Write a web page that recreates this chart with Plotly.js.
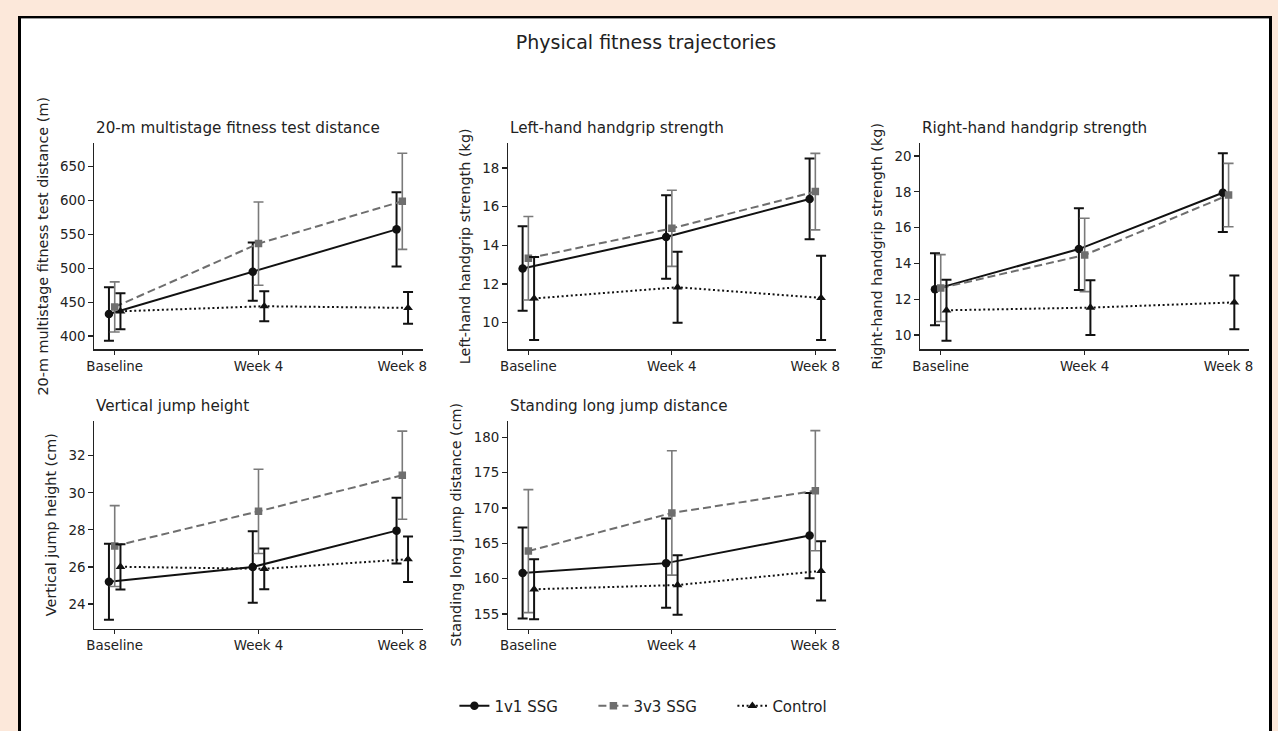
<!DOCTYPE html>
<html>
<head>
<meta charset="utf-8">
<script src="https://cdn.plot.ly/plotly-3.0.1.min.js"></script>
<style>
html,body{margin:0;padding:0;background:#fce8da;width:1278px;height:731px;overflow:hidden;font-family:"DejaVu Sans",sans-serif;}
#frame{position:absolute;left:18px;top:16px;width:1248px;height:740px;background:#fff;border-left:3px solid #000;border-right:3px solid #000;border-top:2px solid #000;box-shadow:inset 0 1px 0 #9a9a9a;}
#chart{position:absolute;left:0;top:0;width:1278px;height:731px;}
</style>
</head>
<body>
<div id="frame"></div>
<div id="chart"></div>
<script>
// ---- categories / labels ----
const timepoints = ['Baseline', 'Week 4', 'Week 8'];
const groupNames = ['1v1 SSG', '3v3 SSG', 'Control'];
const panelTitles = ['20-m multistage fitness test distance', 'Left-hand handgrip strength', 'Right-hand handgrip strength', 'Vertical jump height', 'Standing long jump distance'];
const yLabels = ['20-m multistage fitness test distance (m)', 'Left-hand handgrip strength (kg)', 'Right-hand handgrip strength (kg)', 'Vertical jump height (cm)', 'Standing long jump distance (cm)'];
const yTicksMsft = [400, 450, 500, 550, 600, 650];
const yTicksLeft = [10, 12, 14, 16, 18];
const yTicksRight = [10, 12, 14, 16, 18, 20];
const yTicksVj = [24, 26, 28, 30, 32];
const yTicksSlj = [155, 160, 165, 170, 175, 180];

// ---- 20-m multistage fitness test distance (m) ----
const msftMean1v1 = [432.5, 495, 557.5];
const msftSd1v1 = [39.5, 43, 55];
const msftMean3v3 = [443, 536.5, 599];
const msftSd3v3 = [37, 61.5, 71];
const msftMeanCtrl = [436.5, 444, 441.5];
const msftSdCtrl = [26.5, 22, 23.5];

// ---- Left-hand handgrip strength (kg) ----
const leftMean1v1 = [12.8, 14.43, 16.4];
const leftSd1v1 = [2.19, 2.16, 2.09];
const leftMean3v3 = [13.33, 14.88, 16.78];
const leftSd3v3 = [2.16, 1.97, 1.98];
const leftMeanCtrl = [11.25, 11.83, 11.28];
const leftSdCtrl = [2.15, 1.84, 2.18];

// ---- Right-hand handgrip strength (kg) ----
const rightMean1v1 = [12.56, 14.8, 17.95];
const rightSd1v1 = [2.01, 2.28, 2.2];
const rightMean3v3 = [12.62, 14.47, 17.82];
const rightSd3v3 = [1.87, 2.05, 1.77];
const rightMeanCtrl = [11.38, 11.53, 11.82];
const rightSdCtrl = [1.7, 1.53, 1.5];

// ---- Vertical jump height (cm) ----
const vjMean1v1 = [25.2, 26.0, 27.96];
const vjSd1v1 = [2.05, 1.93, 1.77];
const vjMean3v3 = [27.13, 29.0, 30.95];
const vjSd3v3 = [2.18, 2.27, 2.38];
const vjMeanCtrl = [26.01, 25.9, 26.42];
const vjSdCtrl = [1.22, 1.1, 1.23];

// ---- Standing long jump distance (cm) ----
const sljMean1v1 = [160.8, 162.2, 166.1];
const sljSd1v1 = [6.43, 6.3, 6.03];
const sljMean3v3 = [163.9, 169.3, 172.45];
const sljSd3v3 = [8.7, 8.8, 8.5];
const sljMeanCtrl = [158.5, 159.1, 161.1];
const sljSdCtrl = [4.25, 4.2, 4.2];

// ---- assembly ----
const panels = [
  {means: [msftMean1v1, msftMean3v3, msftMeanCtrl], sds: [msftSd1v1, msftSd3v3, msftSdCtrl], ticks: yTicksMsft, range: [380.4, 684.6]},
  {means: [leftMean1v1, leftMean3v3, leftMeanCtrl], sds: [leftSd1v1, leftSd3v3, leftSdCtrl], ticks: yTicksLeft, range: [8.62, 19.28]},
  {means: [rightMean1v1, rightMean3v3, rightMeanCtrl], sds: [rightSd1v1, rightSd3v3, rightSdCtrl], ticks: yTicksRight, range: [9.2, 20.71]},
  {means: [vjMean1v1, vjMean3v3, vjMeanCtrl], sds: [vjSd1v1, vjSd3v3, vjSdCtrl], ticks: yTicksVj, range: [22.67, 33.89]},
  {means: [sljMean1v1, sljMean3v3, sljMeanCtrl], sds: [sljSd1v1, sljSd3v3, sljSdCtrl], ticks: yTicksSlj, range: [152.92, 182.36]}
];

const W = 1278, H = 731;
const colPx = [[94, 423], [507.7, 836], [920, 1249.3]];
const rowPx = [[143.3, 349.3], [420.7, 628.7]];
const panelPos = [[0, 0], [1, 0], [2, 0], [0, 1], [1, 1]];

const dark = '#111111';
const gray = '#6e6e6e';
const styles = [
  {color: dark, dash: 'solid', symbol: 'circle', size: 8.5, ecolor: dark, ethick: 2},
  {color: gray, dash: '8px,4px', symbol: 'square', size: 7.5, ecolor: '#7a7a7a', ethick: 1.6},
  {color: dark, dash: '2px,2.6px', symbol: 'triangle-up', size: 8.5, ecolor: dark, ethick: 2}
];
const dodge = [-0.04, 0, 0.04];

const traces = [];
const layout = {
  width: W, height: H,
  margin: {l: 0, r: 0, t: 0, b: 0},
  paper_bgcolor: 'rgba(0,0,0,0)',
  plot_bgcolor: 'rgba(0,0,0,0)',
  font: {family: 'DejaVu Sans, sans-serif', color: '#222', size: 13},
  showlegend: true,
  hovermode: false,
  title: {text: 'Physical fitness trajectories', x: 646 / W, y: 1 - 42 / H, xanchor: 'center', yanchor: 'middle', font: {size: 19, color: '#222'}},
  legend: {orientation: 'h', x: 0.5187, xanchor: 'center', y: 1 - 706 / H, yanchor: 'middle', font: {size: 15, color: '#222'}, entrywidth: 94, entrywidthmode: 'pixels', bgcolor: 'rgba(0,0,0,0)'},
  annotations: []
};

panels.forEach((p, i) => {
  const n = i + 1;
  const xa = 'x' + (n === 1 ? '' : n);
  const ya = 'y' + (n === 1 ? '' : n);
  const [c, r] = panelPos[i];
  const xd = [colPx[c][0] / W, colPx[c][1] / W];
  const yd = [1 - rowPx[r][1] / H, 1 - rowPx[r][0] / H];
  layout['xaxis' + (n === 1 ? '' : n)] = {
    domain: xd, anchor: ya, range: [-0.144, 2.144],
    tickmode: 'array', tickvals: [0, 1, 2], ticktext: timepoints,
    showline: true, linecolor: '#222', linewidth: 1.2,
    ticks: 'outside', ticklen: 4.5, tickwidth: 1.2, tickcolor: '#222',
    showgrid: false, zeroline: false, fixedrange: true,
    tickfont: {size: 13.4, color: '#222'}
  };
  layout['yaxis' + (n === 1 ? '' : n)] = {
    domain: yd, anchor: xa, range: p.range,
    tickmode: 'array', tickvals: p.ticks,
    showline: true, linecolor: '#222', linewidth: 1.2,
    ticks: 'outside', ticklen: 4.5, tickwidth: 1.2, tickcolor: '#222',
    showgrid: false, zeroline: false, fixedrange: true,
    tickfont: {size: 13.4, color: '#222'},
    title: {text: yLabels[i], font: {size: 14.4, color: '#222'}, standoff: 8}
  };
  layout.annotations.push({
    text: panelTitles[i], xref: xa + ' domain', yref: ya + ' domain',
    x: 0, y: 1, xanchor: 'left', yanchor: 'middle', yshift: 15, showarrow: false,
    font: {size: 15.2, color: '#222'}
  });
  for (let g = 0; g < 3; g++) {
    const s = styles[g];
    traces.push({
      type: 'scatter', mode: 'lines+markers',
      name: groupNames[g], legendgroup: groupNames[g], showlegend: i === 0,
      x: timepoints.map((t, k) => k + dodge[g]),
      y: p.means[g],
      xaxis: xa, yaxis: ya,
      line: {color: s.color, width: 2, dash: s.dash},
      marker: {symbol: s.symbol, size: s.size, color: s.color},
      error_y: {type: 'data', array: p.sds[g], visible: true, color: s.ecolor, thickness: s.ethick, width: 5}
    });
  }
});

Plotly.newPlot('chart', traces, layout, {staticPlot: true, displayModeBar: false});
</script>
</body>
</html>
